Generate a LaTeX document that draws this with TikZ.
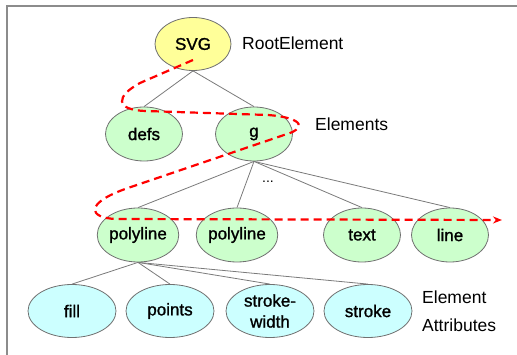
\documentclass[tikz,border=0pt]{standalone}
\usepackage{fontspec}
\setmainfont{Liberation Sans}
\newfontfamily\bubblefont{Liberation Sans}[FakeBold=1.2]
\usetikzlibrary{shapes.geometric,arrows.meta}
\definecolor{rootfill}{HTML}{FFFF99}
\definecolor{elemfill}{HTML}{CCFFCC}
\definecolor{attrfill}{HTML}{CCFFFF}
\definecolor{outline}{HTML}{707070}
\definecolor{edgegray}{HTML}{7A7A7A}
\definecolor{framegray}{HTML}{8C8C8C}
\tikzset{
  bubble/.style={ellipse, draw=outline, line width=0.8pt, inner sep=0pt,
    font=\bubblefont\fontsize{17}{21}\selectfont, align=center},
  rootnode/.style={bubble, fill=rootfill, minimum width=76pt, minimum height=53pt},
  elemnode/.style={bubble, fill=elemfill, minimum width=77pt, minimum height=54pt},
  attrnode/.style={bubble, fill=attrfill, minimum width=88pt, minimum height=53pt},
  treeedge/.style={draw=edgegray, line width=0.8pt},
  caption/.style={font=\fontsize{17.5}{28}\selectfont, anchor=west, align=left, inner sep=0pt},
  traversal/.style={draw=red, line width=2.2pt, dash pattern=on 8pt off 5pt}
}
\begin{document}
\begin{tikzpicture}[x=1pt,y=-1pt]
  \useasboundingbox (0,0) rectangle (517,355);
  % frame: top and left edges only
  \draw[framegray, line width=1.6pt] (7,355) -- (7,6) -- (517,6);

  % nodes
  \node[rootnode] (svg) at (193,44) {SVG};
  \node[elemnode] (defs) at (144,134) {defs};
  \node[elemnode] (g) at (254,134) {g};
  \node[elemnode] (pl1) at (138,235) {polyline};
  \node[elemnode] (pl2) at (237,235) {polyline};
  \node[elemnode] (txt) at (362,235) {text};
  \node[elemnode] (ln) at (450,235) {line};
  \node[attrnode] (fill) at (72,311) {fill};
  \node[attrnode] (pts) at (170,311) {points};
  \node[attrnode] (sw) at (270,311) {stroke-\\width};
  \node[attrnode] (stk) at (368,311) {stroke};

  % captions
  \node[caption] (cap1) at (242,43) {RootElement};
  \node[caption] (cap2) at (315,124) {Elements};
  \node[caption] (cap3) at (422,311) {Element\\Attributes};
  \node[font=\fontsize{14}{16}\selectfont, inner sep=0pt] (dots) at (268,182) {...};

  % tree edges
  \path[treeedge] (svg.south) -- (defs.north);
  \path[treeedge] (svg.south) -- (g.north);
  \path[treeedge] (g.south) -- (pl1.north);
  \path[treeedge] (g.south) -- (pl2.north);
  \path[treeedge] (g.south) -- (txt.north);
  \path[treeedge] (g.south) -- (ln.north);
  \path[treeedge] (pl1.south) -- (fill.north);
  \path[treeedge] (pl1.south) -- (pts.north);
  \path[treeedge] (pl1.south) -- (sw.north);
  \path[treeedge] (pl1.south) -- (stk.north);

  % depth-first traversal
  \coordinate (tstart) at (193,60);
  \coordinate (tend) at (502,220);
  \draw[traversal, -{Stealth[length=9pt,width=7pt]}]
    (tstart) -- (140,83)
    .. controls (116,96) and (114,110) .. (146,111)
    -- (268,115)
    .. controls (306,118) and (306,129) .. (284,135)
    -- (128,188)
    .. controls (84,203) and (88,218) .. (116,219)
    -- (tend);
\end{tikzpicture}
\end{document}
